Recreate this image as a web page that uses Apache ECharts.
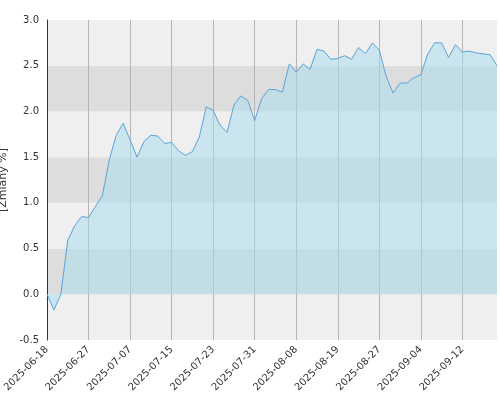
<!DOCTYPE html>
<html>
<head>
<meta charset="utf-8">
<script src="https://cdn.jsdelivr.net/npm/echarts@6/dist/echarts.min.js"></script>
<style>html,body{margin:0;padding:0;background:#fff}#main{width:500px;height:400px}</style>
</head>
<body>
<div id="main"></div>
<script>
var dates = [
  '2025-06-18','2025-06-20','2025-06-23','2025-06-24','2025-06-25','2025-06-26',
  '2025-06-27','2025-06-30','2025-07-01','2025-07-02','2025-07-03','2025-07-04',
  '2025-07-07','2025-07-08','2025-07-09','2025-07-10','2025-07-11','2025-07-14',
  '2025-07-15','2025-07-16','2025-07-17','2025-07-18','2025-07-21','2025-07-22',
  '2025-07-23','2025-07-24','2025-07-25','2025-07-28','2025-07-29','2025-07-30',
  '2025-07-31','2025-08-01','2025-08-04','2025-08-05','2025-08-06','2025-08-07',
  '2025-08-08','2025-08-11','2025-08-12','2025-08-13','2025-08-14','2025-08-18',
  '2025-08-19','2025-08-20','2025-08-21','2025-08-22','2025-08-25','2025-08-26',
  '2025-08-27','2025-08-28','2025-08-29','2025-09-01','2025-09-02','2025-09-03',
  '2025-09-04','2025-09-05','2025-09-08','2025-09-09','2025-09-10','2025-09-11',
  '2025-09-12','2025-09-15','2025-09-16','2025-09-17','2025-09-18','2025-09-19'
];
var changes = [
  0, -0.17, 0, 0.59, 0.75, 0.85, 0.84, 0.96, 1.08, 1.47,
  1.74, 1.87, 1.69, 1.50, 1.67, 1.74, 1.73, 1.65, 1.66, 1.57,
  1.52, 1.56, 1.72, 2.05, 2.01, 1.85, 1.77, 2.07, 2.17, 2.12,
  1.90, 2.14, 2.24, 2.24, 2.21, 2.52, 2.43, 2.52, 2.46, 2.68,
  2.66, 2.57, 2.58, 2.61, 2.57, 2.70, 2.63, 2.75, 2.67, 2.38,
  2.20, 2.31, 2.31, 2.37, 2.40, 2.63, 2.75, 2.75, 2.59, 2.73,
  2.65, 2.66, 2.64, 2.63, 2.62, 2.50
];

var option = {
  animation: false,
  grid: { left: 47, right: 3, top: 20, bottom: 60, containLabel: false, outerBoundsMode: 'none' },
  xAxis: {
    type: 'category',
    data: dates,
    boundaryGap: false,
    axisLine: { show: false },
    axisTick: { show: false },
    axisLabel: { interval: 5, rotate: 45, color: '#333', fontSize: 10, fontFamily: 'DejaVu Sans', margin: 8 },
    splitLine: { show: true, interval: 5, lineStyle: { color: '#b4b4b4', width: 1 } }
  },
  yAxis: {
    type: 'value',
    min: -0.5, max: 3.0, interval: 0.5,
    name: '[Zmiany %]',
    nameLocation: 'middle',
    nameGap: 30,
    nameTextStyle: { color: '#333', fontSize: 11, fontFamily: 'DejaVu Sans' },
    axisLine: { show: true, lineStyle: { color: '#333' } },
    axisTick: { show: false },
    axisLabel: { color: '#333', fontSize: 10, fontFamily: 'DejaVu Sans', formatter: function (v) { return v.toFixed(1); } },
    splitLine: { show: false },
    splitArea: { show: true, areaStyle: { color: ['#efefef', '#dddddd'] } }
  },
  series: [{
    type: 'line',
    data: changes,
    symbol: 'none',
    lineStyle: { color: '#5aa3dc', width: 1 },
    areaStyle: { color: 'rgba(170,220,238,0.75)' }
  }]
};
echarts.init(document.getElementById('main')).setOption(option);
</script>
</body>
</html>
